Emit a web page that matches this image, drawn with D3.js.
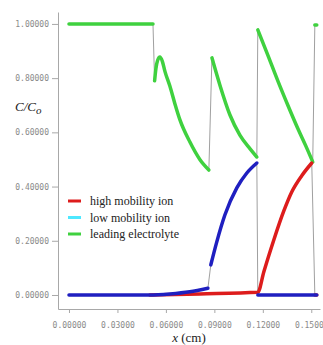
<!DOCTYPE html>
<html>
<head>
<meta charset="utf-8">
<script src="https://cdn.jsdelivr.net/npm/d3@7"></script>
<style>
body { margin:0; background:#fff; }
</style>
</head>
<body>
<div id="svgContainer"></div>
<script>
// concentration profiles, each series split where it jumps
var greenSegs = [
	[[0,1.0],[0.0520,1.0]],
	[[0.0530,0.79],[0.0538,0.835],[0.0549,0.866],[0.0563,0.878],[0.0578,0.862],[0.0594,0.825],[0.0625,0.77],[0.0656,0.705],[0.0687,0.646],[0.0748,0.565],[0.0810,0.50],[0.0866,0.461]],
	[[0.0885,0.875],[0.0934,0.775],[0.0996,0.665],[0.1058,0.59],[0.1120,0.54],[0.1163,0.509]],
	[[0.1169,0.978],[0.1231,0.885],[0.1293,0.79],[0.1355,0.70],[0.1416,0.615],[0.1466,0.55],[0.1509,0.491]],
	[[0.1522,0.996],[0.1534,0.996]]
];
var blueSegs = [
	[[0,0],[0.0501,0],[0.0625,0.004],[0.0748,0.012],[0.0860,0.025]],
	[[0.0878,0.111],[0.0915,0.196],[0.0965,0.295],[0.1039,0.395],[0.1101,0.450],[0.1163,0.487]],
	[[0.1169,0],[0.1534,0]]
];
var redSegs = [
	[[0.0501,0],[0.0810,0.004],[0.1169,0.010],[0.1206,0.085],[0.1268,0.203],[0.1330,0.31],[0.1379,0.38],[0.1441,0.44],[0.1503,0.487]],
	[[0.1522,0],[0.1534,0]]
];
var xTicks = [0,0.03,0.06,0.09,0.12,0.15];
var yTicks = [0,0.2,0.4,0.6,0.8,1.0];
var legendNames = ["high mobility ion","low mobility ion","leading electrolyte"];
var legendColors = ["#dd1c1c","#4ee8ff","#3fd13f"];

var svgWidth = 323, svgHeight = 345;
var svg = d3.select("#svgContainer").append("svg")
	.attr("width",svgWidth)
	.attr("height",svgHeight);

var x = d3.scaleLinear().domain([-0.0068,0.1554]).range([58,320]);
var y = d3.scaleLinear().domain([-0.0517,1.044]).range([309,12]);

// axes
var xAxis = svg.append("g")
	.attr("transform","translate(0,309)")
	.call(d3.axisBottom(x).tickValues(xTicks).tickSize(4).tickSizeOuter(0).tickPadding(9).tickFormat(d3.format(".5f")));
var yAxis = svg.append("g")
	.attr("transform","translate(58,0)")
	.call(d3.axisLeft(y).tickValues(yTicks).tickSize(6).tickSizeOuter(0).tickPadding(3).tickFormat(d3.format(".5f")));
[xAxis,yAxis].forEach(function(a){
	a.select(".domain").attr("stroke","#a8a8a8");
	a.selectAll(".tick line").attr("stroke","#a8a8a8");
	a.selectAll("text")
		.attr("fill","#8a8a8a")
		.style("font-family","DejaVu Sans Mono")
		.style("font-size","8px");
});

var line = d3.line().x(function(d){return x(d[0]);}).y(function(d){return y(d[1]);});

// thin grey line through all points (shows the jumps)
[greenSegs,blueSegs,redSegs].forEach(function(segs){
	var all = [];
	segs.forEach(function(s){ all = all.concat(s); });
	svg.append("path")
		.attr("d",line(all))
		.attr("fill","none")
		.attr("stroke","#a0a0a0")
		.attr("stroke-width",1);
});

var smooth = d3.line().curve(d3.curveMonotoneX).x(function(d){return x(d[0]);}).y(function(d){return y(d[1]);});
function drawSegs(segs,color){
	svg.append("g").selectAll("path")
		.data(segs)
		.enter()
		.append("path")
		.attr("d",smooth)
		.attr("fill","none")
		.attr("stroke",color)
		.attr("stroke-width",3.5)
		.attr("stroke-linecap","round");
}
drawSegs(greenSegs,"#3fd13f");
drawSegs(redSegs,"#dd1c1c");
drawSegs(blueSegs,"#1f1fc0");

// legend
var legend = svg.selectAll(".legend")
	.data(legendNames)
	.enter().append("g")
	.attr("class","legend")
	.attr("transform",function(d,i){ return "translate(68,"+(201+i*16.5)+")"; });
legend.append("line")
	.attr("x1",0).attr("x2",13)
	.attr("stroke",function(d,i){return legendColors[i];})
	.attr("stroke-width",3);
legend.append("text")
	.attr("x",22)
	.attr("y",4)
	.style("font-family","Liberation Serif")
	.style("font-size","12px")
	.attr("fill","#222")
	.text(function(d){return d;});

// axis titles
var yt = svg.append("text")
	.attr("x",15).attr("y",111)
	.style("font-family","Liberation Serif")
	.style("font-size","13px")
	.style("font-style","italic")
	.attr("fill","#222");
yt.append("tspan").text("C/C");
yt.append("tspan").attr("dy",3).style("font-size","11px").text("o");

var xt = svg.append("text")
	.attr("x",189).attr("y",342)
	.attr("text-anchor","middle")
	.style("font-family","Liberation Serif")
	.style("font-size","13px")
	.attr("fill","#222");
xt.append("tspan").style("font-style","italic").text("x");
xt.append("tspan").text(" (cm)");
</script>
</body>
</html>
